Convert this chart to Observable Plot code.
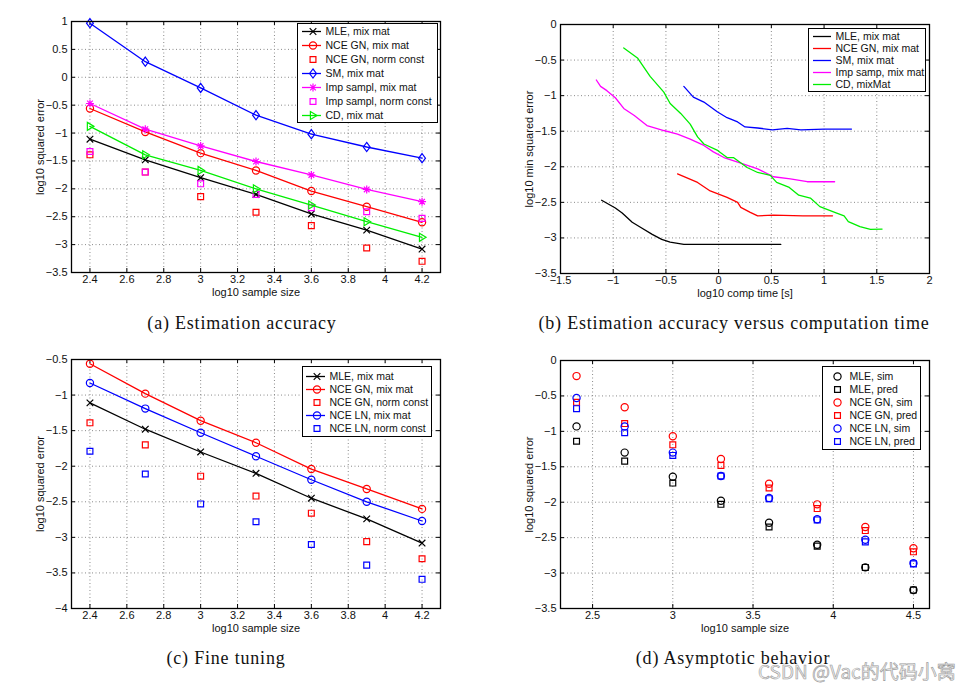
<!DOCTYPE html>
<html><head><meta charset="utf-8">
<script src="https://cdn.jsdelivr.net/npm/d3@7"></script>
<script src="https://cdn.jsdelivr.net/npm/@observablehq/plot@0.6"></script>
<style>
body{margin:0;background:#fff;}
#root{position:relative;width:977px;height:687px;overflow:hidden;background:#fff;font-family:"Liberation Sans",Arial,sans-serif;}
.panel{position:absolute;}
.legend{position:absolute;border:1.3px solid #000;background:#fff;box-sizing:border-box;}
.legend svg{display:block;}
.caption{position:absolute;font-family:"Liberation Serif",serif;font-size:18px;letter-spacing:0.8px;white-space:nowrap;transform:translate(-50%,-50%);color:#111;}
.wm{position:absolute;font-family:"Noto Sans CJK SC","Noto Sans",sans-serif;font-size:19px;white-space:nowrap;color:rgba(235,235,235,0.85);-webkit-text-stroke:0.6px #9a9a9a;transform:translateY(-50%);}
</style></head><body><div id="root"></div>
<script>
// ---------- data ----------
const sizesA = [2.4, 2.7, 3.0, 3.3, 3.6, 3.9, 4.2];
const mleMix    = [-1.11, -1.48, -1.80, -2.10, -2.45, -2.74, -3.08];
const nceGnMix  = [-0.56, -0.98, -1.36, -1.67, -2.04, -2.32, -2.60];
const nceGnNorm = [-1.39, -1.70, -2.14, -2.42, -2.66, -3.06, -3.30];
const smMix     = [0.97, 0.28, -0.19, -0.68, -1.02, -1.25, -1.45];
const impMix    = [-0.47, -0.93, -1.23, -1.51, -1.75, -2.01, -2.23];
const impNorm   = [-1.33, -1.70, -1.91, -2.10, -2.34, -2.41, -2.53];
const cdMix     = [-0.88, -1.39, -1.67, -2.00, -2.29, -2.59, -2.87];
const nceLnMix  = [-0.83, -1.19, -1.53, -1.86, -2.19, -2.50, -2.77];
const nceLnNorm = [-1.79, -2.11, -2.53, -2.78, -3.10, -3.39, -3.59];

const bMleT = [-1.11, -0.98, -0.915, -0.82, -0.73, -0.63, -0.54, -0.46, -0.33, 0.0, 0.3, 0.59];
const bMleE = [-2.47, -2.58, -2.65, -2.78, -2.86, -2.95, -3.02, -3.06, -3.09, -3.09, -3.09, -3.09];
const bNceT = [-0.39, -0.20, -0.08, 0.08, 0.18, 0.21, 0.30, 0.37, 0.52, 0.80, 1.08];
const bNceE = [-2.10, -2.22, -2.34, -2.43, -2.50, -2.57, -2.64, -2.69, -2.68, -2.69, -2.69];
const bSmT = [-0.33, -0.24, -0.14, -0.01, 0.08, 0.18, 0.25, 0.37, 0.51, 0.65, 0.78, 1.0, 1.26];
const bSmE = [-0.87, -1.02, -1.09, -1.23, -1.31, -1.37, -1.44, -1.455, -1.48, -1.46, -1.48, -1.47, -1.47];
const bImpT = [-1.16, -1.12, -1.06, -0.98, -0.90, -0.80, -0.68, -0.52, -0.39, -0.27, -0.14, -0.05, 0.05, 0.21, 0.37, 0.52, 0.68, 0.84, 1.10];
const bImpE = [-0.78, -0.87, -0.93, -1.03, -1.18, -1.28, -1.42, -1.49, -1.54, -1.61, -1.70, -1.79, -1.87, -1.95, -2.03, -2.14, -2.17, -2.21, -2.21];
const bCdT = [-0.90, -0.77, -0.65, -0.52, -0.46, -0.36, -0.27, -0.20, -0.14, -0.01, 0.08, 0.14, 0.27, 0.37, 0.49, 0.55, 0.67, 0.76, 0.87, 0.96, 1.12, 1.19, 1.23, 1.34, 1.44, 1.55];
const bCdE = [-0.33, -0.47, -0.73, -0.95, -1.11, -1.25, -1.40, -1.58, -1.68, -1.77, -1.87, -1.87, -2.01, -2.08, -2.12, -2.22, -2.29, -2.40, -2.44, -2.56, -2.65, -2.69, -2.77, -2.84, -2.88, -2.875];

const sizesD = [2.4, 2.7, 3.0, 3.3, 3.6, 3.9, 4.2, 4.5];
const dMleSim  = [-0.93, -1.30, -1.64, -1.98, -2.29, -2.60, -2.92, -3.24];
const dMlePred = [-1.14, -1.42, -1.73, -2.03, -2.35, -2.62, -2.92, -3.24];
const dGnSim   = [-0.22, -0.66, -1.07, -1.39, -1.74, -2.03, -2.35, -2.65];
const dGnPred  = [-0.59, -0.89, -1.19, -1.48, -1.80, -2.09, -2.40, -2.70];
const dLnSim   = [-0.53, -0.93, -1.30, -1.63, -1.94, -2.24, -2.53, -2.86];
const dLnPred  = [-0.68, -1.02, -1.34, -1.63, -1.95, -2.25, -2.56, -2.87];

const ticksSizeX = [2.4, 2.6, 2.8, 3, 3.2, 3.4, 3.6, 3.8, 4, 4.2];
const ticksAY = [1, 0.5, 0, -0.5, -1, -1.5, -2, -2.5, -3, -3.5];
const ticksBX = [-1.5, -1, -0.5, 0, 0.5, 1, 1.5, 2];
const ticksBY = [0, -0.5, -1, -1.5, -2, -2.5, -3, -3.5];
const ticksCY = [-0.5, -1, -1.5, -2, -2.5, -3, -3.5, -4];
const ticksDX = [2.5, 3, 3.5, 4, 4.5];

const captions = ["(a) Estimation accuracy", "(b) Estimation accuracy versus computation time", "(c) Fine tuning", "(d) Asymptotic behavior"];

// ---------- styling helpers ----------
const C = {k: "#000000", r: "#ff0000", b: "#0000ff", m: "#ff00ff", g: "#00ee00"};
const star8 = {draw(ctx, size) {const r = Math.sqrt(size / Math.PI), d = r * 0.7071;
  ctx.moveTo(-r, 0); ctx.lineTo(r, 0); ctx.moveTo(0, -r); ctx.lineTo(0, r);
  ctx.moveTo(-d, -d); ctx.lineTo(d, d); ctx.moveTo(-d, d); ctx.lineTo(d, -d);}};
const diamondTall = {draw(ctx, size) {const r = Math.sqrt(size / Math.PI), w = r * 0.85, h = r * 1.15;
  ctx.moveTo(0, -h); ctx.lineTo(w, 0); ctx.lineTo(0, h); ctx.lineTo(-w, 0); ctx.closePath();}};
const triRight = {draw(ctx, size) {const r = Math.sqrt(size / Math.PI);
  ctx.moveTo(r, 0); ctx.lineTo(-r * 0.65, -r); ctx.lineTo(-r * 0.65, r); ctx.closePath();}};
const SYM = {x: {symbol: "times", r: 3.1}, o: {symbol: "circle", r: 3.6}, s: {symbol: "square", r: 3.3},
  d: {symbol: diamondTall, r: 4}, star: {symbol: star8, r: 4}, tri: {symbol: triRight, r: 4}};
const fmt = d3.format("~g");
const root = document.getElementById("root");

function place(node, left, top, cls) {
  const div = document.createElement("div");
  div.className = cls || "panel";
  div.style.left = left + "px"; div.style.top = top + "px";
  div.appendChild(node); root.appendChild(div); return div;
}

function series(xs, ys, color, sym, line) {
  const out = [];
  if (line) out.push(Plot.line(xs, {x: xs, y: ys, stroke: color, strokeWidth: 1.3}));
  if (sym) out.push(Plot.dot(xs, {x: xs, y: ys, stroke: color, fill: "none", strokeWidth: 1.2, ...SYM[sym]}));
  return out;
}

function panel(o) {
  const fw = o.w - o.ml - o.mr, fh = o.h - o.mt - o.mb;
  const grid = {stroke: "#8a8a8a", strokeDasharray: "1,2.5", strokeWidth: 1};
  return Plot.plot({
    width: o.w, height: o.h, marginLeft: o.ml, marginRight: o.mr, marginTop: o.mt, marginBottom: o.mb,
    style: {fontFamily: "'Liberation Sans', Arial, sans-serif", fontSize: "11px", color: "#111", background: "transparent", overflow: "visible"},
    x: {domain: o.xd}, y: {domain: o.yd},
    marks: [
      Plot.ruleX(o.xt, grid),
      Plot.ruleY(o.yt, grid),
      Plot.ruleX(o.xt, {insetTop: fh - 4, stroke: "#000"}),
      Plot.ruleX(o.xt, {insetBottom: fh - 4, stroke: "#000"}),
      Plot.ruleY(o.yt, {insetRight: fw - 4, stroke: "#000"}),
      Plot.ruleY(o.yt, {insetLeft: fw - 4, stroke: "#000"}),
      Plot.axisX({ticks: o.xt, tickSize: 0, tickPadding: 3, tickFormat: fmt, label: o.xl, labelAnchor: "center", labelArrow: "none", labelOffset: 23}),
      Plot.axisY({ticks: o.yt, tickSize: 0, tickPadding: 4, tickFormat: fmt, label: o.yl, labelAnchor: "center", labelArrow: "none", labelOffset: 35}),
      ...o.marks,
      Plot.frame({stroke: "#000", strokeWidth: 1.3})
    ]
  });
}

function legend(items, o) {
  const n = items.length, labels = items.map(d => d.label);
  const marks = [];
  for (const it of items) {
    if (it.line) marks.push(Plot.ruleY([it.label], {y: d => d, stroke: it.color, strokeWidth: 1.3, insetLeft: o.l0, insetRight: o.w - o.l1}));
    if (it.sym) marks.push(Plot.dot([it.label], {y: d => d, frameAnchor: "left", dx: o.sx, stroke: it.color, fill: "none", strokeWidth: 1.2, ...SYM[it.sym]}));
  }
  marks.push(Plot.text(items, {y: "label", text: "label", frameAnchor: "left", dx: o.tx, textAnchor: "start", fill: "#111"}));
  const svg = Plot.plot({
    width: o.w - 2, height: o.h - 2, margin: 0, marginTop: o.rt, marginBottom: o.h - 2 - o.rt - o.rs * (n - 1),
    style: {fontFamily: "'Liberation Sans', Arial, sans-serif", fontSize: "10.5px", background: "transparent", overflow: "visible"},
    y: {type: "point", domain: labels, padding: 0, axis: null},
    marks
  });
  const div = place(svg, o.left, o.top, "legend");
  div.style.width = o.w + "px"; div.style.height = o.h + "px";
}

// ---------- (a) ----------
place(panel({w: 490, h: 305, ml: 71, mr: 50, mt: 21, mb: 33, xd: [2.3, 4.3], yd: [-3.5, 1], xt: ticksSizeX, yt: ticksAY,
  xl: "log10 sample size", yl: "log10 squared error",
  marks: [
    ...series(sizesA, mleMix, C.k, "x", true),
    ...series(sizesA, nceGnMix, C.r, "o", true),
    ...series(sizesA, nceGnNorm, C.r, "s", false),
    ...series(sizesA, smMix, C.b, "d", true),
    ...series(sizesA, impMix, C.m, "star", true),
    ...series(sizesA, impNorm, C.m, "s", false),
    ...series(sizesA, cdMix, C.g, "tri", true)
  ]}), 0, 0);
legend([
  {label: "MLE, mix mat", color: C.k, line: true, sym: "x"},
  {label: "NCE GN, mix mat", color: C.r, line: true, sym: "o"},
  {label: "NCE GN, norm const", color: C.r, line: false, sym: "s"},
  {label: "SM, mix mat", color: C.b, line: true, sym: "d"},
  {label: "Imp sampl, mix mat", color: C.m, line: true, sym: "star"},
  {label: "Imp sampl, norm const", color: C.m, line: false, sym: "s"},
  {label: "CD, mix mat", color: C.g, line: true, sym: "tri"}
], {left: 297, top: 23, w: 141, h: 100, rt: 7, rs: 14, l0: 4, l1: 25, sx: 14.5, tx: 27});

// ---------- (b) ----------
place(panel({w: 487, h: 305, ml: 70, mr: 48, mt: 24, mb: 32, xd: [-1.5, 2], yd: [-3.5, 0], xt: ticksBX, yt: ticksBY,
  xl: "log10 comp time [s]", yl: "log10 min squared error",
  marks: [
    ...series(bMleT, bMleE, C.k, null, true),
    ...series(bNceT, bNceE, C.r, null, true),
    ...series(bSmT, bSmE, C.b, null, true),
    ...series(bImpT, bImpE, C.m, null, true),
    ...series(bCdT, bCdE, C.g, null, true)
  ]}), 490, 0);
legend([
  {label: "MLE, mix mat", color: C.k, line: true},
  {label: "NCE GN, mix mat", color: C.r, line: true},
  {label: "SM, mix mat", color: C.b, line: true},
  {label: "Imp samp, mix mat", color: C.m, line: true},
  {label: "CD, mixMat", color: C.g, line: true}
], {left: 808, top: 28, w: 118, h: 64, rt: 6, rs: 12.5, l0: 4, l1: 24, sx: 14, tx: 26});

// ---------- (c) ----------
place(panel({w: 490, h: 305, ml: 71, mr: 50, mt: 19, mb: 37, xd: [2.3, 4.3], yd: [-4, -0.5], xt: ticksSizeX, yt: ticksCY,
  xl: "log10 sample size", yl: "log10 squared error",
  marks: [
    ...series(sizesA, mleMix, C.k, "x", true),
    ...series(sizesA, nceGnMix, C.r, "o", true),
    ...series(sizesA, nceGnNorm, C.r, "s", false),
    ...series(sizesA, nceLnMix, C.b, "o", true),
    ...series(sizesA, nceLnNorm, C.b, "s", false)
  ]}), 0, 340);
legend([
  {label: "MLE, mix mat", color: C.k, line: true, sym: "x"},
  {label: "NCE GN, mix mat", color: C.r, line: true, sym: "o"},
  {label: "NCE GN, norm const", color: C.r, line: false, sym: "s"},
  {label: "NCE LN, mix mat", color: C.b, line: true, sym: "o"},
  {label: "NCE LN, norm const", color: C.b, line: false, sym: "s"}
], {left: 302, top: 366, w: 130, h: 71, rt: 7, rs: 13.75, l0: 3, l1: 24, sx: 13.5, tx: 26});

// ---------- (d) ----------
place(panel({w: 487, h: 305, ml: 70, mr: 48, mt: 20, mb: 37, xd: [2.3, 4.6], yd: [-3.5, 0], xt: ticksDX, yt: ticksBY,
  xl: "log10 sample size", yl: "log10 squared error",
  marks: [
    ...series(sizesD, dMleSim, C.k, "o", false),
    ...series(sizesD, dMlePred, C.k, "s", false),
    ...series(sizesD, dGnSim, C.r, "o", false),
    ...series(sizesD, dGnPred, C.r, "s", false),
    ...series(sizesD, dLnSim, C.b, "o", false),
    ...series(sizesD, dLnPred, C.b, "s", false)
  ]}), 490, 340);
legend([
  {label: "MLE, sim", color: C.k, sym: "o"},
  {label: "MLE, pred", color: C.k, sym: "s"},
  {label: "NCE GN, sim", color: C.r, sym: "o"},
  {label: "NCE GN, pred", color: C.r, sym: "s"},
  {label: "NCE LN, sim", color: C.b, sym: "o"},
  {label: "NCE LN, pred", color: C.b, sym: "s"}
], {left: 822, top: 366, w: 99, h: 84, rt: 7, rs: 13.8, l0: 4, l1: 24, sx: 14, tx: 26});

// ---------- captions ----------
const capPos = [[242, 323], [734, 323], [226, 658], [733, 658]];
captions.forEach((t, i) => {
  const d = document.createElement("div");
  d.className = "caption"; d.textContent = t;
  d.style.left = capPos[i][0] + "px"; d.style.top = capPos[i][1] + "px";
  root.appendChild(d);
});
const wm = document.createElement("div");
wm.className = "wm"; wm.textContent = "CSDN @Vac的代码小窝";
wm.style.left = "758px"; wm.style.top = "670px";
root.appendChild(wm);
</script></body></html>
